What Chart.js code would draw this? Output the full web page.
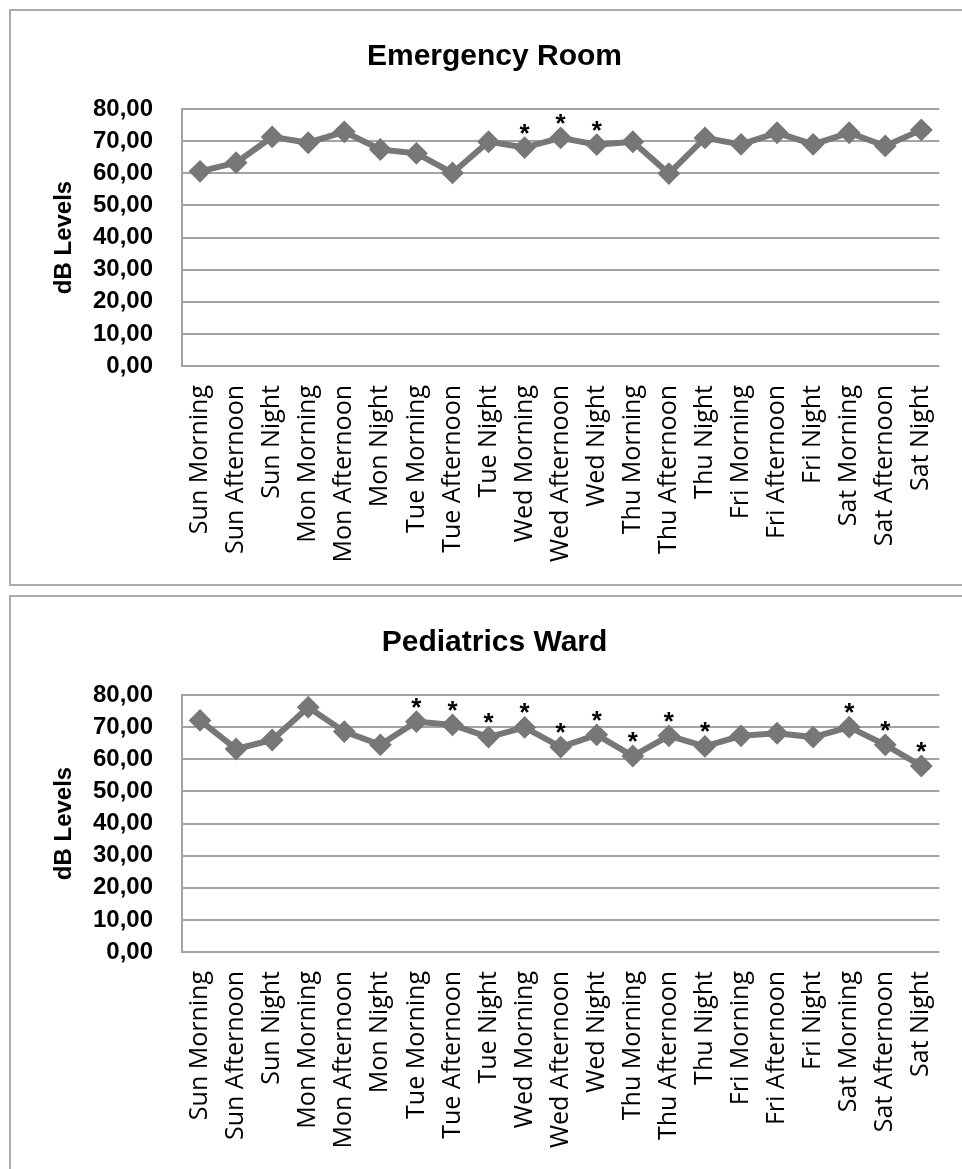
<!DOCTYPE html>
<html>
<head>
<meta charset="utf-8">
<title>Noise levels - Emergency Room / Pediatrics Ward</title>
<script src="https://cdn.jsdelivr.net/npm/chart.js@4.4.1/dist/chart.umd.min.js"></script>
<style>
    html, body {
        margin: 0;
        padding: 0;
        background: #ffffff;
        overflow: hidden;
    }
    .chart-box {
        position: absolute;
        left: 9px;
        width: 960px;
        height: 573px;
        border: 2px solid #ababab;
        background: #ffffff;
    }
    #box1 { top: 9px; }
    #box2 { top: 595px; }
    canvas { display: block; }
</style>
</head>
<body>
<div class="chart-box" id="box1"><canvas id="erChart" width="960" height="573"></canvas></div>
<div class="chart-box" id="box2"><canvas id="pedChart" width="960" height="573"></canvas></div>

<script>
// Time slots (x axis)
const slots = [
    'Sun Morning', 'Sun Afternoon', 'Sun Night',
    'Mon Morning', 'Mon Afternoon', 'Mon Night',
    'Tue Morning', 'Tue Afternoon', 'Tue Night',
    'Wed Morning', 'Wed Afternoon', 'Wed Night',
    'Thu Morning', 'Thu Afternoon', 'Thu Night',
    'Fri Morning', 'Fri Afternoon', 'Fri Night',
    'Sat Morning', 'Sat Afternoon', 'Sat Night'
];

// dB levels
const erLevels = [60.6, 63.3, 71.3, 69.5, 72.9, 67.4, 66.2, 60.1, 69.8, 68.0, 71.0,
                  68.9, 69.8, 59.9, 71.0, 69.0, 72.6, 69.0, 72.6, 68.5, 73.5];
const pedLevels = [72.1, 63.2, 66.0, 76.2, 68.6, 64.5, 71.7, 70.7, 66.9, 69.9, 63.8,
                   67.6, 61.0, 67.3, 64.0, 67.3, 68.1, 66.9, 70.0, 64.5, 57.9];

// significant slots (marked with *)
const erStars = [9, 10, 11];
const pedStars = [6, 7, 8, 9, 10, 11, 12, 13, 14, 18, 19, 20];

// y axis range
const yMin = 0;
const yMax = 80;
const yStep = 10;

const lineGray = '#777777';
const gridGray = '#a3a3a3';

// draws a "*" above each flagged point
const starPlugin = {
    id: 'stars',
    afterDatasetsDraw(chart, args, opts) {
        const ctx = chart.ctx;
        const meta = chart.getDatasetMeta(0);
        ctx.save();
        ctx.font = 'bold 26px "Liberation Sans", Arial, sans-serif';
        ctx.fillStyle = '#000000';
        ctx.textAlign = 'center';
        ctx.textBaseline = 'alphabetic';
        const m = ctx.measureText('*');
        const shift = (m.actualBoundingBoxAscent - m.actualBoundingBoxDescent) / 2;
        (opts.indices || []).forEach(i => {
            const pt = meta.data[i];
            if (!pt) return;
            ctx.fillText('*', pt.x, pt.y - 19 + shift);
        });
        ctx.restore();
    }
};

function makeChart(canvasId, title, values, stars) {
    const ctx = document.getElementById(canvasId).getContext('2d');
    return new Chart(ctx, {
        type: 'line',
        data: {
            labels: slots,
            datasets: [{
                label: title,
                data: values,
                borderColor: lineGray,
                backgroundColor: lineGray,
                borderWidth: 6,
                pointStyle: 'rectRot',
                pointRadius: 10,
                pointBorderWidth: 2,
                pointBackgroundColor: lineGray,
                pointBorderColor: lineGray,
                tension: 0,
                fill: false
            }]
        },
        options: {
            responsive: false,
            animation: false,
            events: [],
            layout: {
                padding: { top: 0, left: 35, right: 28, bottom: 0 }
            },
            scales: {
                x: {
                    type: 'category',
                    offset: true,
                    grid: { display: false, drawTicks: false },
                    border: { display: false },
                    ticks: {
                        autoSkip: false,
                        minRotation: 90,
                        maxRotation: 90,
                        padding: 19,
                        color: '#000000',
                        font: { family: '"Open Sans", "DejaVu Sans", sans-serif', size: 25 }
                    },
                    afterFit: scale => { scale.height = 218; }
                },
                y: {
                    min: yMin,
                    max: yMax,
                    grid: {
                        color: gridGray,
                        lineWidth: 2,
                        drawTicks: false
                    },
                    border: { display: true, color: gridGray, width: 2 },
                    ticks: {
                        stepSize: yStep,
                        padding: 29,
                        color: '#000000',
                        font: { family: '"Liberation Sans", Arial, sans-serif', size: 24, weight: 'bold' },
                        callback: v => v.toFixed(2).replace('.', ',')
                    },
                    title: {
                        display: true,
                        text: 'dB Levels',
                        color: '#000000',
                        padding: { top: 4, bottom: 4 },
                        font: { family: '"Liberation Sans", Arial, sans-serif', size: 24, weight: 'bold' }
                    },
                    afterFit: scale => { scale.width = 136; }
                }
            },
            plugins: {
                legend: { display: false },
                tooltip: { enabled: false },
                title: {
                    display: true,
                    text: title,
                    color: '#000000',
                    padding: { top: 28, bottom: 34 },
                    font: { family: '"Liberation Sans", Arial, sans-serif', size: 30, weight: 'bold' }
                },
                stars: { indices: stars }
            }
        },
        plugins: [starPlugin]
    });
}

document.addEventListener('DOMContentLoaded', function() {
    makeChart('erChart', 'Emergency Room', erLevels, erStars);
    makeChart('pedChart', 'Pediatrics Ward', pedLevels, pedStars);
});
</script>
</body>
</html>
